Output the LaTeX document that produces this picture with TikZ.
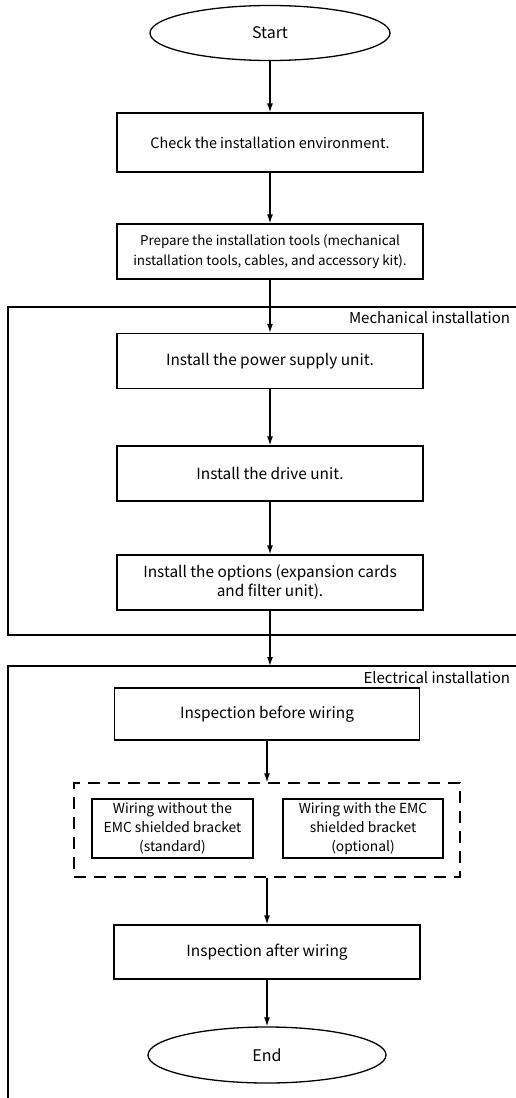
\documentclass[tikz,border=0pt]{standalone}
\usepackage{fontspec}
\setmainfont{Noto Sans CJK SC}
\usetikzlibrary{arrows.meta}
\usetikzlibrary{shapes.geometric}

\begin{document}
\begin{tikzpicture}[x=1pt,y=-1pt,>/.tip={Latex[length=9pt,width=6pt]},
	line width=1.3pt,
	stepbox/.style={draw,shape=rectangle,minimum width=306pt,minimum height=55pt,align=center,font=\fontsize{15.4}{19}\selectfont},
	optbox/.style={draw,shape=rectangle,minimum width=161pt,minimum height=59pt,inner xsep=1pt,align=center,font=\fontsize{13.8}{19}\selectfont},
	endpoint/.style={draw,shape=ellipse,minimum width=240pt,minimum height=55pt,font=\fontsize{16}{18}\selectfont},
	grouplabel/.style={anchor=base east,font=\fontsize{15}{18}\selectfont}]
	\useasboundingbox (0,0) rectangle (515,1098);

	% groups
	\draw (520,307) -| (8,635) -- (520,635);
	\node [grouplabel] (mech) at (514,323) {Mechanical installation};
	\draw (520,666) -| (8,1100);
	\node [grouplabel] (elec) at (514,683) {Electrical installation};
	\coordinate (eltop) at (270,666);

	% steps
	\draw (270,33) node (start) [endpoint] {Start};
	\draw (270,142.5) node (check) [stepbox,minimum height=59pt,font=\fontsize{14.4}{18}\selectfont] {Check the installation environment.};
	\draw (270,251.5) node (tools) [stepbox,font=\fontsize{13.4}{20}\selectfont] {Prepare the installation tools (mechanical\\installation tools, cables, and accessory kit).};
	\draw (270,361) node (psu) [stepbox] {Install the power supply unit.};
	\draw (270,473.5) node (drive) [stepbox] {Install the drive unit.};
	\draw (270,582.5) node (opts) [stepbox] {Install the options (expansion cards\\and filter unit).};
	\draw (267,714) node (before) [stepbox,minimum width=305pt,minimum height=52pt] {Inspection before wiring};
	\draw (267,830) node (wiring) [draw,dashed,dash pattern=on 12pt off 8pt,minimum width=386pt,minimum height=94pt] {};
	\draw (172.5,828.5) node (nobracket) [optbox] {Wiring without the\\EMC shielded bracket\\(standard)};
	\draw (363,828.5) node (bracket) [optbox,minimum width=160pt] {Wiring with the EMC\\shielded bracket\\(optional)};
	\draw (267,952) node (after) [stepbox,minimum height=54pt] {Inspection after wiring};
	\draw (267,1055) node (end) [endpoint,minimum width=238pt,minimum height=56pt] {End};

	\path[->] (start) edge (check);
	\path[->] (check) edge (tools);
	\path[->] (tools) edge (psu);
	\path[->] (psu) edge (drive);
	\path[->] (drive) edge (opts);
	\path[->] (opts) edge (eltop);
	\path[->] (before) edge (wiring);
	\path[->] (wiring) edge (after);
	\path[->] (after) edge (end);
\end{tikzpicture}
\end{document}
